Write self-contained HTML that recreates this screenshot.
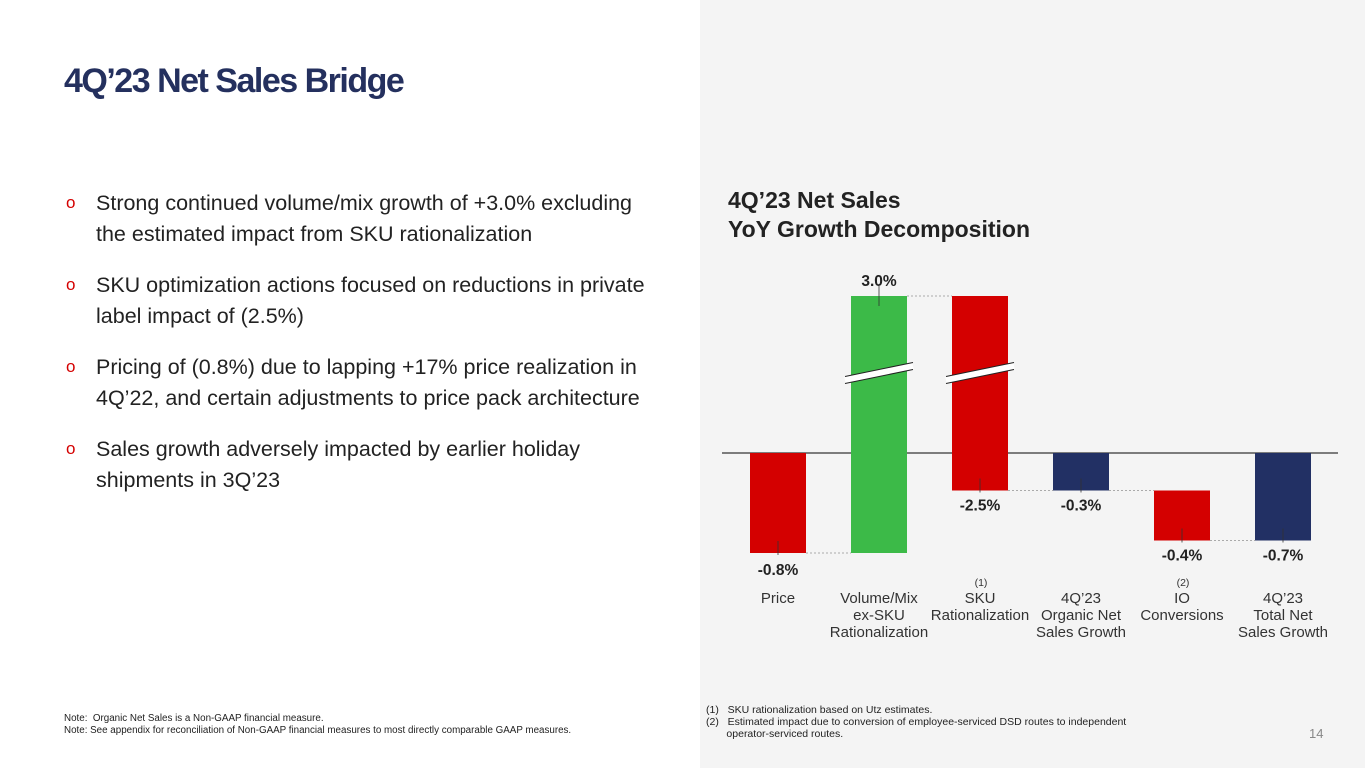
<!DOCTYPE html>
<html><head><meta charset="utf-8"><style>
body{margin:0;width:1365px;height:768px;position:relative;overflow:hidden;background:#fff;font-family:"Liberation Sans",sans-serif;}
.abs{position:absolute;}
#right{left:700px;top:0;width:665px;height:768px;background:#f4f4f4;}
h1{position:absolute;left:64px;top:62px;margin:0;font-size:34px;font-weight:bold;color:#24305e;letter-spacing:-1.5px;}
.bul{position:absolute;left:66px;font-size:21.5px;color:#222;line-height:31px;width:600px;}
.bul .o{position:absolute;left:0;top:-1px;color:#d40000;font-size:17px;}
.bul .t{margin-left:30px;display:block;}
.note{font-size:10.5px;color:#222;line-height:12px;}
</style></head><body>
<div id="right" class="abs"></div>
<h1>4Q’23 Net Sales Bridge</h1>
<div class="bul" style="top:188px"><span class="o">o</span><span class="t">Strong continued volume/mix growth of +3.0% excluding the estimated impact from SKU rationalization</span></div>
<div class="bul" style="top:270px"><span class="o">o</span><span class="t">SKU optimization actions focused on reductions in private label impact of (2.5%)</span></div>
<div class="bul" style="top:352px;width:620px"><span class="o">o</span><span class="t">Pricing of (0.8%) due to lapping +17% price realization in 4Q’22, and certain adjustments to price pack architecture</span></div>
<div class="bul" style="top:434px"><span class="o">o</span><span class="t">Sales growth adversely impacted by earlier holiday shipments in 3Q’23</span></div>
<div class="abs note" style="left:64px;top:713px;font-size:9.8px">Note:&nbsp; Organic Net Sales is a Non-GAAP financial measure.<br>Note: See appendix for reconciliation of Non-GAAP financial measures to most directly comparable GAAP measures.</div>
<div class="abs note" style="left:706px;top:704px">(1)&nbsp;&nbsp; SKU rationalization based on Utz estimates.<br>(2)&nbsp;&nbsp; Estimated impact due to conversion of employee-serviced DSD routes to independent<br>&nbsp;&nbsp;&nbsp;&nbsp;&nbsp;&nbsp; operator-serviced routes.</div>
<div class="abs" style="left:1309px;top:726px;font-size:13px;color:#888">14</div>
<div class="abs" style="left:728px;top:186px;font-size:23px;font-weight:bold;color:#222;line-height:29px">4Q’23 Net Sales<br>YoY Growth Decomposition</div>
<svg class="abs" style="left:0;top:0" width="1365" height="768" id="chart"></svg>
<script>
const categories=[["Price"],["Volume/Mix","ex-SKU","Rationalization"],["SKU","Rationalization"],["4Q’23","Organic Net","Sales Growth"],["IO","Conversions"],["4Q’23","Total Net","Sales Growth"]];
const values=[-0.8,3.0,-2.5,-0.3,-0.4,-0.7];
const labels=["-0.8%","3.0%","-2.5%","-0.3%","-0.4%","-0.7%"];
const isTotal=[false,false,false,true,false,true];
const colors=["#d40000","#3cba48","#d40000","#223064","#d40000","#223064"];
const notes=["","","(1)","","(2)",""];
const svg=document.getElementById('chart');const NS="http://www.w3.org/2000/svg";
const y0=453,k=125,capTop=296,capVal=1.0;
function y(v){return v>capVal?capTop:y0-v*k;}
function x(i){return 750+i*101;}
const bw=56;
function el(t,a,p){const e=document.createElementNS(NS,t);for(const n in a)e.setAttribute(n,a[n]);(p||svg).appendChild(e);return e;}
const zl=el('line',{x1:722,x2:1338,y1:y0,y2:y0,stroke:'#555','stroke-width':1.5});

let cum=0;
values.forEach((v,i)=>{
 let a,b;
 if(isTotal[i]){a=0;b=cum;}else{a=cum;b=cum+v;cum=b;}
 const top=Math.min(y(a),y(b)),bot=Math.max(y(a),y(b));
 const r=el('rect',{x:x(i),y:top,width:bw,height:bot-top,fill:colors[i]});
 
 if(y(a)===capTop||y(b)===capTop){
  const bl=el('line',{x1:x(i)-6,y1:380,x2:x(i)+bw+6,y2:366,stroke:'#fff','stroke-width':7});
  
  el('line',{x1:x(i)-6,y1:376.5,x2:x(i)+bw+6,y2:362.5,stroke:'#222','stroke-width':1});
  el('line',{x1:x(i)-6,y1:383.5,x2:x(i)+bw+6,y2:369.5,stroke:'#222','stroke-width':1});
 }
 const end=y(b);
 if(i<values.length-1){
  const c=el('line',{x1:x(i)+bw,x2:x(i+1),y1:end,y2:end,stroke:'#aaa','stroke-width':1,'stroke-dasharray':'2,2'});
  
 }
 const cx=x(i)+bw/2;
 const ly=v>0?top-10:bot+(i===0?22:20);
 const t=el('text',{x:cx,y:ly,'text-anchor':'middle','font-size':15.5,'font-weight':'bold',fill:'#222','font-family':'Liberation Sans'});
 t.textContent=labels[i];
 el('line',{x1:cx,x2:cx,y1:v>0?top-10:bot-12,y2:v>0?top+10:bot+2,stroke:'#333','stroke-width':0.8});
 categories[i].forEach((s,j)=>{const c=el('text',{x:cx,y:603+j*17,'text-anchor':'middle','font-size':15,fill:'#333','font-family':'Liberation Sans'});c.textContent=s;});
 if(notes[i]){const n=el('text',{x:cx+1,y:586,'text-anchor':'middle','font-size':10.5,fill:'#333','font-family':'Liberation Sans'});n.textContent=notes[i];}
});
</script>
</body></html>
